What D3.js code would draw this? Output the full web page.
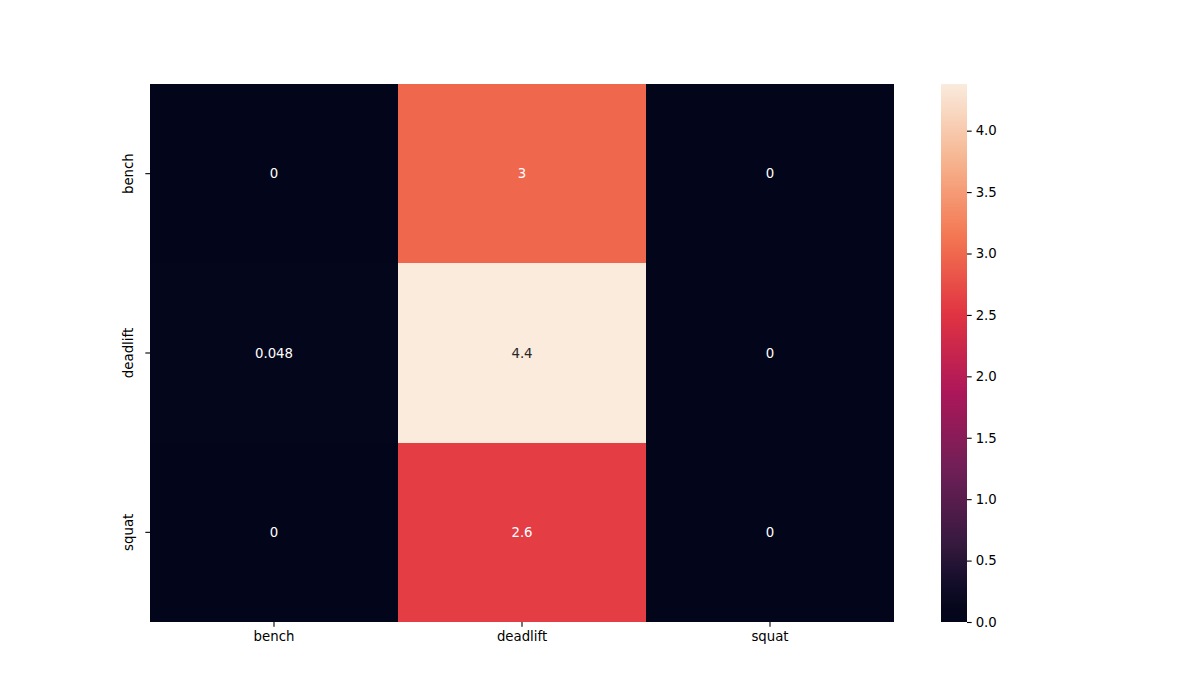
<!DOCTYPE html>
<html>
<head>
<meta charset="utf-8">
<script src="https://cdn.jsdelivr.net/npm/d3@7"></script>
<style>
  body { margin: 0; background: #fff; }
  svg text { font-family: "DejaVu Sans", sans-serif; }
</style>
</head>
<body>
<svg id="chart" width="1200" height="700"></svg>
<script>
const rows = ["bench", "deadlift", "squat"];
const cols = ["bench", "deadlift", "squat"];
const values = [
  [0, 3, 0],
  [0.048, 4.38, 0],
  [0, 2.6, 0]
];
const cbarTicks = [0, 0.5, 1, 1.5, 2, 2.5, 3, 3.5, 4];

// approx seaborn "rocket"
const rocketPos = [0, 0.03, 0.07, 1 / 7, 2 / 7, 3 / 7, 4 / 7, 5 / 7, 6 / 7, 1];
const rocketStops = ["#03051a", "#06071d", "#120d29", "#35193e", "#701f57", "#ad1759", "#e13342", "#f37651", "#f6b48f", "#faebdd"];
const rocket = d3.scaleLinear()
  .domain(rocketPos)
  .range(rocketStops)
  .interpolate(d3.interpolateRgb);

const vmax = d3.max(values.flat());
const vmin = 0;
const color = v => rocket((v - vmin) / (vmax - vmin));

// same rule as seaborn for annotation colour
const luminance = c => {
  const rgb = d3.rgb(c);
  const lin = u => { u /= 255; return u <= 0.03928 ? u / 12.92 : Math.pow((u + 0.055) / 1.055, 2.4); };
  return 0.2126 * lin(rgb.r) + 0.7152 * lin(rgb.g) + 0.0722 * lin(rgb.b);
};

const svg = d3.select("#chart");
const SIZE = { left: 150, right: 894, top: 84, bottom: 622 };

const x = d3.scaleBand().domain(cols).range([SIZE.left, SIZE.right]);
const y = d3.scaleBand().domain(rows).range([SIZE.top, SIZE.bottom]);

const g = svg.append("g");

const cells = rows.flatMap((r, i) => cols.map((c, j) => ({ r, c, v: values[i][j] })));

g.selectAll("rect.cell")
  .data(cells)
  .join("rect")
  .attr("class", "cell")
  .attr("x", d => x(d.c))
  .attr("y", d => y(d.r))
  .attr("width", x.bandwidth())
  .attr("height", y.bandwidth())
  .attr("shape-rendering", "crispEdges")
  .attr("fill", d => color(d.v));

const fmt = d3.format(".2");

g.selectAll("text.annot")
  .data(cells)
  .join("text")
  .attr("class", "annot")
  .attr("x", d => x(d.c) + x.bandwidth() / 2)
  .attr("y", d => y(d.r) + y.bandwidth() / 2)
  .attr("text-anchor", "middle")
  .attr("dominant-baseline", "central")
  .style("font-size", "13.3px")
  .attr("fill", d => luminance(color(d.v)) > 0.408 ? "#262626" : "#ffffff")
  .text(d => fmt(d.v));

// x axis
const xAxis = svg.append("g")
  .attr("transform", `translate(0,${SIZE.bottom})`)
  .call(d3.axisBottom(x).tickSize(4.67).tickPadding(5));
xAxis.select(".domain").remove();
xAxis.selectAll("text").style("font-size", "13.3px").attr("fill", "#000");
xAxis.selectAll("line").attr("stroke", "#000").attr("stroke-width", 1.1);

// y axis
const yAxis = svg.append("g")
  .attr("transform", `translate(${SIZE.left},0)`)
  .call(d3.axisLeft(y).tickSize(4.67).tickPadding(5));
yAxis.select(".domain").remove();
yAxis.selectAll("line").attr("stroke", "#000").attr("stroke-width", 1.1);
yAxis.selectAll("text")
  .style("font-size", "13.3px")
  .attr("fill", "#000")
  .attr("text-anchor", "middle")
  .attr("dy", null)
  .attr("x", null)
  .attr("transform", "translate(-17,0) rotate(-90)");

// colorbar
const cb = { left: 941, right: 967 };
const cy = d3.scaleLinear().domain([vmin, vmax]).range([SIZE.bottom, SIZE.top]);

const defs = svg.append("defs");
const grad = defs.append("linearGradient")
  .attr("id", "cbgrad")
  .attr("x1", 0).attr("y1", 1).attr("x2", 0).attr("y2", 0);
d3.range(0, 1.0001, 0.01).forEach(t => {
  grad.append("stop").attr("offset", t).attr("stop-color", rocket(t));
});

svg.append("rect")
  .attr("x", cb.left)
  .attr("y", SIZE.top)
  .attr("width", cb.right - cb.left)
  .attr("height", SIZE.bottom - SIZE.top)
  .attr("fill", "url(#cbgrad)");

const cAxis = svg.append("g")
  .attr("transform", `translate(${cb.right},0)`)
  .call(d3.axisRight(cy).tickValues(cbarTicks).tickFormat(d3.format(".1f")).tickSize(4.67).tickPadding(4));
cAxis.select(".domain").remove();
cAxis.selectAll("text").style("font-size", "13.3px").attr("fill", "#000");
cAxis.selectAll("line").attr("stroke", "#000").attr("stroke-width", 1.1);
</script>
</body>
</html>
